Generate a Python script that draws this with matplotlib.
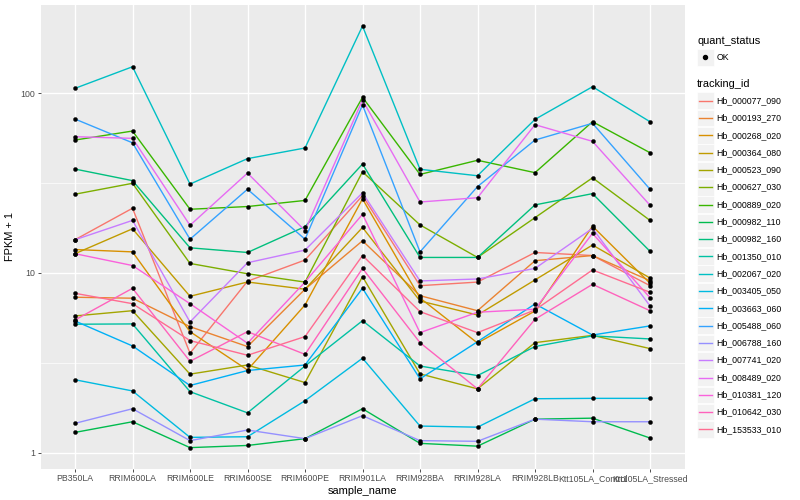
import numpy as np
import matplotlib
matplotlib.use("Agg")
import matplotlib.pyplot as plt
from matplotlib.patches import Rectangle
from matplotlib.lines import Line2D
from matplotlib.ticker import FixedLocator, NullFormatter

plt.rcParams['font.family'] = ['Liberation Sans', 'DejaVu Sans']

samples = ["PB350LA", "RRIM600LA", "RRIM600LE", "RRIM600SE", "RRIM600PE", "RRIM901LA",
           "RRIM928BA", "RRIM928LA", "RRIM928LB", "Ktt105LA_Control", "Ktt105LA_Stressed"]

tracking_ids = ["Hb_000077_090", "Hb_000193_270", "Hb_000268_020", "Hb_000364_080",
                "Hb_000523_090", "Hb_000627_030", "Hb_000889_020", "Hb_000982_110",
                "Hb_000982_160", "Hb_001350_010", "Hb_002067_020", "Hb_003405_050",
                "Hb_003663_060", "Hb_005488_060", "Hb_006788_160", "Hb_007741_020",
                "Hb_008489_020", "Hb_010381_120", "Hb_010642_030", "Hb_153533_010"]

colors = ["#F8766D", "#EA8331", "#D89000", "#C09B00", "#A3A500", "#7CAE00", "#39B600",
          "#00BB4E", "#00BF7D", "#00C1A3", "#00BFC4", "#00BAE0", "#00B0F6", "#35A2FF",
          "#9590FF", "#C77CFF", "#E76BF3", "#FA62DB", "#FF62BC", "#FF6C91"]

# FPKM + 1 per sample (order as in `samples`)
hb_000077_090 = [15.3, 22.9, 3.58, 9.0, 11.8, 26.9, 8.5, 8.9, 13.0, 12.5, 8.5]
hb_000193_270 = [7.33, 7.24, 5.03, 3.90, 8.12, 15.1, 7.48, 6.17, 11.7, 12.5, 9.06]
hb_000268_020 = [13.5, 13.1, 4.72, 2.89, 6.64, 25.8, 7.26, 4.08, 6.15, 18.2, 8.77]
hb_000364_080 = [12.8, 17.6, 7.42, 8.91, 8.12, 17.9, 6.99, 5.84, 9.15, 14.3, 9.38]
hb_000523_090 = [5.77, 6.17, 2.74, 3.08, 2.46, 9.54, 2.75, 2.27, 4.10, 4.50, 3.80]
hb_000627_030 = [27.4, 31.5, 11.3, 9.9, 8.9, 36.5, 18.5, 12.2, 20.3, 33.8, 19.6]
hb_000889_020 = [54.8, 61.5, 22.6, 23.4, 25.3, 94.7, 35.3, 42.3, 36.1, 69.3, 46.6]
hb_000982_110 = [1.30, 1.49, 1.07, 1.10, 1.20, 1.76, 1.13, 1.09, 1.54, 1.56, 1.21]
hb_000982_160 = [37.8, 32.6, 13.8, 13.0, 18.1, 40.3, 12.2, 12.2, 23.9, 27.6, 13.2]
hb_001350_010 = [5.19, 5.21, 2.19, 1.67, 3.04, 5.43, 3.04, 2.69, 3.90, 4.47, 4.30]
hb_002067_020 = [106.2, 140.0, 31.2, 43.2, 49.5, 235.6, 37.7, 34.7, 71.4, 108.4, 69.3]
hb_003405_050 = [2.55, 2.21, 1.22, 1.23, 1.95, 3.36, 1.41, 1.39, 2.00, 2.01, 2.01]
hb_003663_060 = [5.41, 3.93, 2.37, 2.87, 3.08, 8.22, 2.58, 4.15, 6.73, 4.52, 5.08]
hb_005488_060 = [71.7, 52.9, 15.4, 29.2, 15.4, 85.8, 13.1, 30.2, 54.8, 67.9, 29.2]
hb_006788_160 = [1.46, 1.76, 1.17, 1.34, 1.20, 1.61, 1.17, 1.16, 1.54, 1.49, 1.49]
hb_007741_020 = [15.3, 19.6, 5.34, 11.4, 13.4, 27.9, 9.03, 9.26, 10.6, 17.7, 6.56]
hb_008489_020 = [57.2, 56.0, 18.4, 35.9, 17.2, 91.4, 24.8, 26.2, 66.7, 53.9, 23.8]
hb_010381_120 = [12.8, 11.0, 6.75, 4.07, 8.9, 21.2, 4.66, 6.05, 6.29, 16.6, 7.29]
hb_010642_030 = [5.48, 8.22, 3.23, 4.72, 3.53, 10.6, 4.10, 2.27, 5.53, 8.65, 6.17]
hb_153533_010 = [7.71, 6.75, 4.21, 3.49, 4.43, 12.5, 6.10, 4.66, 6.23, 10.4, 7.81]

series = [hb_000077_090, hb_000193_270, hb_000268_020, hb_000364_080, hb_000523_090,
          hb_000627_030, hb_000889_020, hb_000982_110, hb_000982_160, hb_001350_010,
          hb_002067_020, hb_003405_050, hb_003663_060, hb_005488_060, hb_006788_160,
          hb_007741_020, hb_008489_020, hb_010381_120, hb_010642_030, hb_153533_010]

W, H = 800, 500
fig = plt.figure(figsize=(8, 5), dpi=100)
fig.patch.set_facecolor("white")
L, R, T, B = 40.5, 684.5, 5.0, 468.7
ax = fig.add_axes([L / W, 1 - B / H, (R - L) / W, (B - T) / H])
ax.set_facecolor("#EBEBEB")

x = np.arange(len(samples))
for vals, c in zip(series, colors):
    ax.plot(x, vals, color=c, lw=1.0, zorder=3, solid_capstyle="butt")
for vals in series:
    ax.plot(x, vals, ls="none", marker="o", ms=2.9, color="black", mec="black", mew=0.3, zorder=4)

ax.set_yscale("log")
allv = np.concatenate([np.array(s) for s in series])
lo, hi = np.log10(allv.min()), np.log10(allv.max())
pad = 0.05 * (hi - lo)
ax.set_ylim(10 ** (lo - pad), 10 ** (hi + pad))
ax.set_xlim(-0.6, len(samples) - 1 + 0.6)

ax.yaxis.set_major_locator(FixedLocator([1, 10, 100]))
ax.yaxis.set_minor_locator(FixedLocator([10 ** 0.5, 10 ** 1.5]))
ax.yaxis.set_minor_formatter(NullFormatter())
ax.set_yticklabels(["1", "10", "100"])
ax.set_xticks(x)
ax.set_xticklabels(samples)

ax.grid(which="major", color="white", lw=1.0, zorder=1)
ax.grid(which="minor", axis="y", color="white", lw=0.5, zorder=1)
ax.set_axisbelow(True)
for s in ax.spines.values():
    s.set_visible(False)
ax.tick_params(which="major", length=2.0, width=0.6, color="#333333",
               labelsize=6.3, labelcolor="#4D4D4D", pad=1.8)
ax.tick_params(which="minor", length=0)

ax.set_xlabel("sample_name", fontsize=7.9, labelpad=2.5)
ax.set_ylabel("FPKM + 1", fontsize=7.9, labelpad=4)

# legend (drawn manually in pixel coordinates)
def fx(px):
    return px / W

def fy(py):
    return 1 - py / H

fig.text(fx(697), fy(40.7), "quant_status", fontsize=7.9, va="center", ha="left")
fig.patches.append(Rectangle((fx(697), fy(57.3 + 8.3)), 16.6 / W, 16.6 / H,
                             transform=fig.transFigure, facecolor="#F2F2F2",
                             edgecolor="white", lw=0.5))
fig.lines.append(Line2D([fx(705.3)], [fy(57.3)], transform=fig.transFigure,
                        marker="o", ms=2.9, color="black", ls="none"))
fig.text(fx(716.7), fy(57.3), "OK", fontsize=6.3, va="center", ha="left")

fig.text(fx(697), fy(84.3), "tracking_id", fontsize=7.9, va="center", ha="left")
for i, (tid, c) in enumerate(zip(tracking_ids, colors)):
    yc = 100.7 + 17.3 * i
    fig.patches.append(Rectangle((fx(697), fy(yc + 8.3)), 16.6 / W, 16.6 / H,
                                 transform=fig.transFigure, facecolor="#F2F2F2",
                                 edgecolor="white", lw=0.5))
    fig.lines.append(Line2D([fx(698.5), fx(712.3)], [fy(yc), fy(yc)],
                            transform=fig.transFigure, color=c, lw=1.0))
    fig.text(fx(716.7), fy(yc), tid, fontsize=6.3, va="center", ha="left")

fig.savefig("out.png", dpi=100)
